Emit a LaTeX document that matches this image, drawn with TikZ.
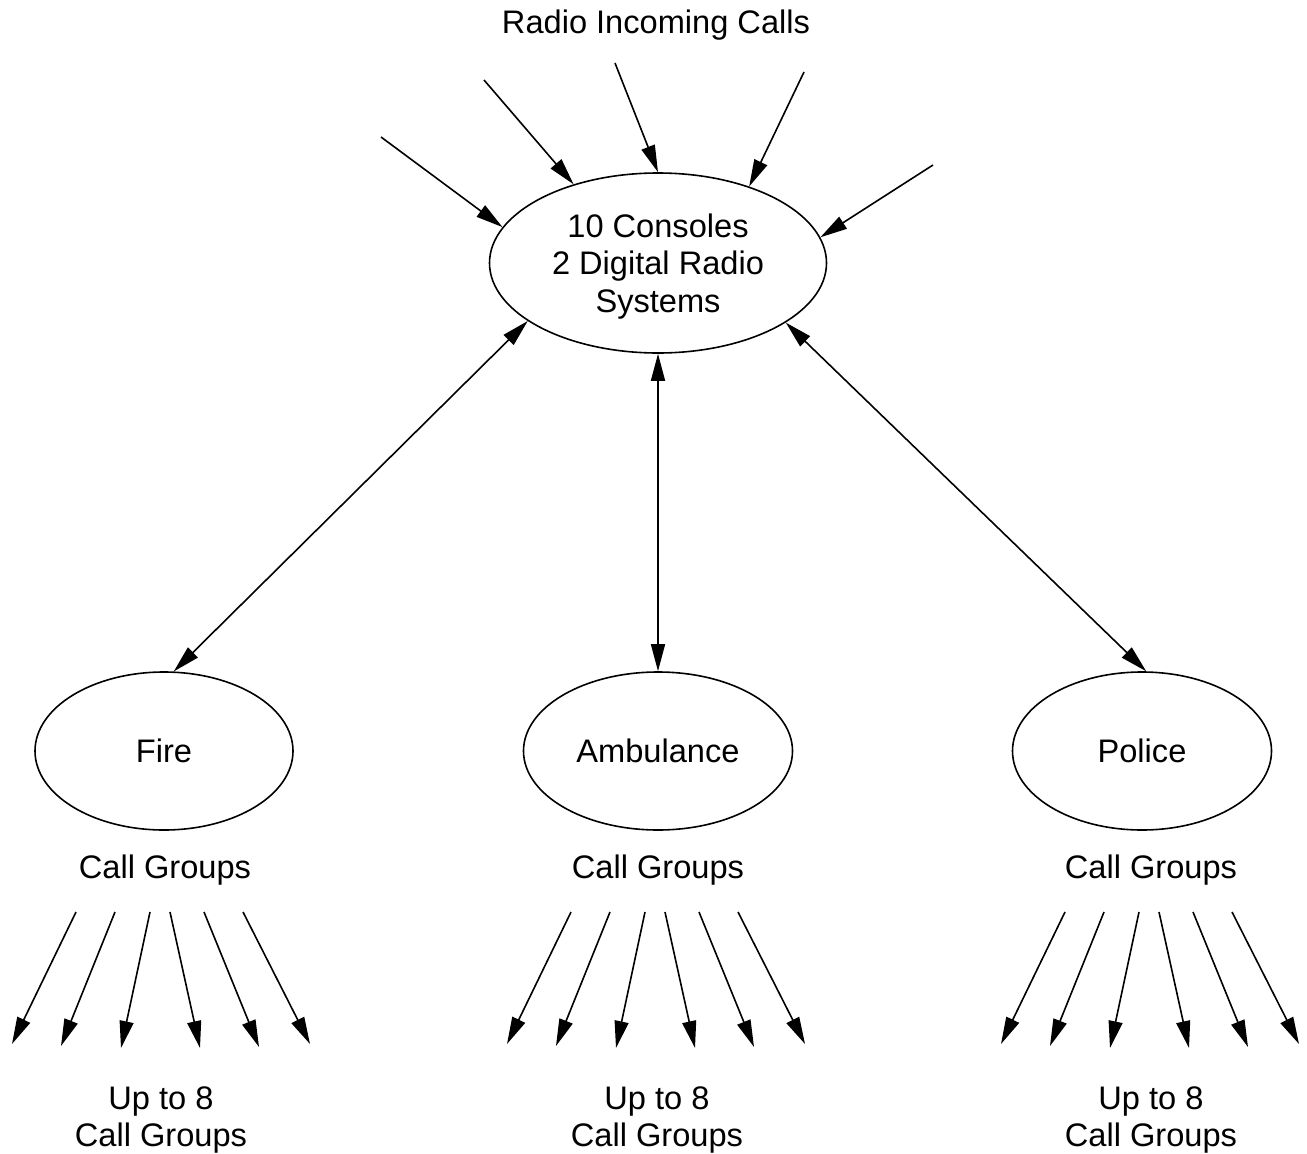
\documentclass[tikz,border=0pt]{standalone}
\usepackage{fontspec}
\setmainfont{Liberation Sans}
\usetikzlibrary{arrows.meta,shapes.geometric}
\tikzset{ctip/.tip={Triangle[length=27pt,width=14pt]}}
\begin{document}
\begin{tikzpicture}[x=1pt,y=-1pt,
  lbl/.style={font=\fontsize{32.6}{37.5}\selectfont, align=center, inner sep=0pt},
  oval/.style={ellipse, draw, line width=1.6pt, lbl},
  conn/.style={line width=1.6pt, -ctip},
  both/.style={line width=1.6pt, ctip-ctip}]
\useasboundingbox (0,0) rectangle (1307,1154);

% central dispatch node and the three services
\node[oval, minimum width=337pt, minimum height=180pt, text depth=0pt] (hub) at (658,263)
  {10 Consoles\\2 Digital Radio\\Systems};
\node[oval, minimum width=258pt, minimum height=158pt] (fire) at (164,751) {Fire};
\node[oval, minimum width=269pt, minimum height=158pt] (amb) at (658,751) {Ambulance};
\node[oval, minimum width=259pt, minimum height=158pt] (pol) at (1142,751) {Police};

% captions
\node[lbl] (title) at (656,25) {Radio Incoming Calls};
\node[lbl] (fcg) at (165,870) {Call Groups};
\node[lbl] (acg) at (658,870) {Call Groups};
\node[lbl] (pcg) at (1151,870) {Call Groups};
\node[lbl] (fup) at (161,1120) {Up to 8\\Call Groups};
\node[lbl] (aup) at (657,1120) {Up to 8\\Call Groups};
\node[lbl] (pup) at (1151,1120) {Up to 8\\Call Groups};

% incoming radio calls
\coordinate (in1) at (381,137);
\coordinate (in2) at (484,80);
\coordinate (in3) at (615,63);
\coordinate (in4) at (804,72);
\coordinate (in5) at (933,165);
\draw[conn] (in1) -- (hub.167.4);
\draw[conn] (in2) -- (hub.137);
\draw[conn] (in3) -- (hub.90);
\draw[conn] (in4) -- (hub.40);
\draw[conn] (in5) -- (hub.9.7);

% two-way links to the services
\draw[both] (hub.204.6) -- (fire.83.9);
\draw[both] (hub.270) -- (amb.90);
\draw[both] (hub.335.4) -- (pol.87.7);

% outgoing call groups
\foreach \g/\dx in {f/0,a/495,p/989}{
  \foreach \sx/\ex/\ey [count=\i] in {76/12/1044, 115/61/1046, 150/121/1048,
                                      170/200/1048, 204/259/1047, 243/310/1044}{
    \coordinate (\g s\i) at (\sx+\dx, 912);
    \coordinate (\g e\i) at (\ex+\dx, \ey);
    \draw[conn] (\g s\i) -- (\g e\i);
  }
}
\end{tikzpicture}
\end{document}
